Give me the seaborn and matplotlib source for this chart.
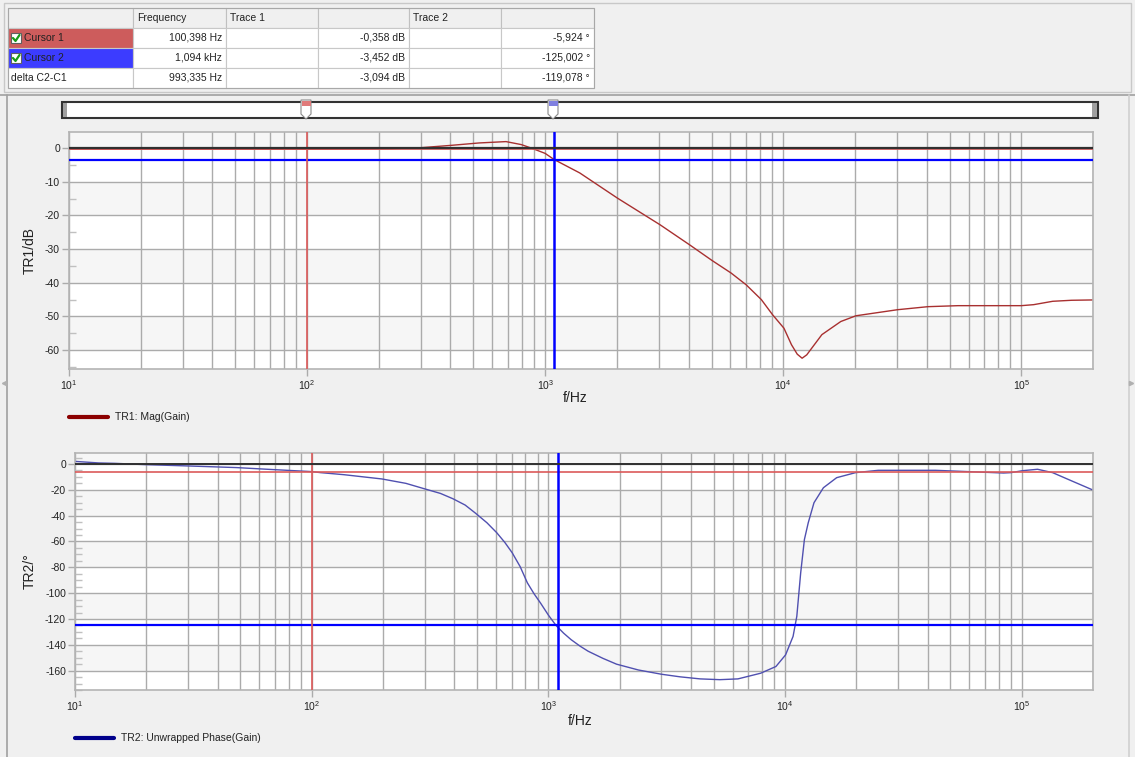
import matplotlib
matplotlib.use("Agg")
import numpy as np
import pandas as pd
import matplotlib.pyplot as plt
import seaborn as sns
from matplotlib.patches import Rectangle, Polygon
from matplotlib.ticker import FixedLocator, MultipleLocator, NullFormatter

# ==========================
# DATA
# ==========================

mag_freq = [10, 20, 50, 100, 200, 225, 302, 405, 528, 685, 795, 888, 1000, 1089,
            1397, 2014, 3040, 4035, 5025, 6035, 6985, 8090, 9020, 10070, 10830,
            11450, 12000, 12550, 14530, 17450, 20200, 30200, 40500, 54200,
            100000, 112700, 135500, 162600, 200000]
mag_db = [-0.30, -0.31, -0.33, -0.36, -0.25, -0.2, 0.1, 0.8, 1.5, 1.9, 1.0, -0.2,
          -1.6, -3.4, -7.4, -14.9, -22.8, -28.7, -33.4, -37.1, -40.6, -45.0,
          -49.5, -53.5, -58.4, -61.2, -62.4, -61.4, -55.4, -51.5, -49.8, -48.0,
          -47.1, -46.8, -46.8, -46.5, -45.5, -45.2, -45.1]

ph_freq = [10, 12.6, 14.7, 19.8, 29.7, 48.2, 65, 84.4, 100, 109, 137, 198, 250,
           298, 350, 395, 445, 493, 550, 605, 655, 703, 760, 815, 870, 929,
           1000, 1077, 1160, 1247, 1360, 1473, 1700, 1941, 2400, 3006, 3600,
           4378, 5300, 6322, 7890, 9150, 10050, 10810, 11210, 11640, 12070,
           12530, 13250, 14520, 16520, 19870, 24760, 43150, 60100, 83800,
           90100, 100700, 116600, 135000, 163000, 200000]
ph_deg = [2, 0.8, 0.5, -0.5, -1.5, -2.8, -4.1, -5.2, -5.9, -6.7, -8.3, -11.6,
          -15.0, -19.1, -22.8, -26.9, -31.8, -38.2, -45.5, -53.2, -60.8, -68.7,
          -79.5, -92, -100.5, -108, -117.0, -125, -131.0, -136, -141.0, -145,
          -150.5, -155, -159.5, -162.8, -164.8, -166.4, -167.0, -166.4, -162,
          -156.8, -147.8, -133.5, -118, -84.4, -58.5, -45.5, -30, -18.4, -10.6,
          -6.7, -4.9, -4.9, -5.95, -7, -6.7, -5.2, -4.1, -6.7, -13.2, -20.2]

cursor_freq = [100.398, 1094.0]
cursor_mag = [-0.358, -3.452]
cursor_phase = [-5.924, -125.002]

table_header = ["", "Frequency", "Trace 1", "", "Trace 2", ""]
table_rows = [
    ["Cursor 1", "100,398 Hz", "", "-0,358 dB", "", "-5,924 °"],
    ["Cursor 2", "1,094 kHz", "", "-3,452 dB", "", "-125,002 °"],
    ["delta C2-C1", "993,335 Hz", "", "-3,094 dB", "", "-119,078 °"],
]

decades = [10, 100, 1000, 10000, 100000]
decade_labels = ["$10^{1}$", "$10^{2}$", "$10^{3}$", "$10^{4}$", "$10^{5}$"]

# ==========================
# STYLE
# ==========================

sns.set_theme(style="white")
plt.rcParams["font.family"] = ["Liberation Sans", "DejaVu Sans"]
plt.rcParams["mathtext.fontset"] = "custom"
plt.rcParams["mathtext.rm"] = "Liberation Sans"
plt.rcParams["mathtext.it"] = "Liberation Sans"
plt.rcParams["axes.unicode_minus"] = False

W, H = 1135, 757
BG = "#f0f0f0"
RED_CUR = "#dc5a5a"
BLUE_CUR = "#0000ff"
TR1_COL = "#a83030"
TR2_COL = "#5050b0"
GRID = "#ababab"
TXT = "#222222"

fig = plt.figure(figsize=(W / 100, H / 100), dpi=100, facecolor=BG)


def px_rect(l, t, r, b):
    return [l / W, 1 - b / H, (r - l) / W, (b - t) / H]


# overlay axes in pixel coordinates for the table / slider / frame
ov = fig.add_axes([0, 0, 1, 1])
ov.set_xlim(0, W)
ov.set_ylim(H, 0)
ov.axis("off")
ov.set_zorder(0)

# frames
ov.add_patch(Rectangle((4, 3), 1127, 89, fill=False, ec="#c8c8c8", lw=1))
ov.plot([0, W], [95, 95], color="#a0a0a0", lw=1.2)
ov.plot([7, 7], [95, H], color="#a0a0a0", lw=1.2)
ov.plot([1129, 1129], [95, H], color="#d0d0d0", lw=1.2)
ov.plot([4], [383], marker="<", color="#b0b0b0", ms=3)
ov.plot([1131], [383], marker=">", color="#b0b0b0", ms=3)

# cursor table
col_x = [8, 133, 226, 318, 409, 501, 594]
row_y = [8, 28, 48, 68, 88]
for ci in range(6):
    ov.add_patch(Rectangle((col_x[ci], row_y[0]), col_x[ci + 1] - col_x[ci], 20,
                           fc="#f0f0f0", ec="#c0c0c0", lw=0.8))
    if table_header[ci]:
        ov.text(col_x[ci] + 4, row_y[0] + 10, table_header[ci], fontsize=7.5,
                color=TXT, va="center", ha="left")
row_fill = ["#cd5c5c", "#3c3cff", "white"]
for ri, row in enumerate(table_rows):
    y0 = row_y[ri + 1]
    for ci in range(6):
        fc = row_fill[ri] if ci == 0 else "white"
        ov.add_patch(Rectangle((col_x[ci], y0), col_x[ci + 1] - col_x[ci], 20,
                               fc=fc, ec="#c8c8c8", lw=0.8))
    if ri < 2:
        ov.add_patch(Rectangle((11, y0 + 5), 10, 10, fc="white", ec="#606060", lw=0.8))
        ov.plot([13, 15.5, 19.5], [y0 + 10, y0 + 13, y0 + 7], color="#1a9a1a", lw=1.6)
        ov.text(24, y0 + 10, row[0], fontsize=7.5, color=TXT, va="center")
    else:
        ov.text(11, y0 + 10, row[0], fontsize=7.5, color=TXT, va="center")
    for ci in (1, 3, 5):
        ov.text(col_x[ci + 1] - 4, y0 + 10, row[ci], fontsize=7.5, color=TXT,
                va="center", ha="right")
ov.add_patch(Rectangle((8, 8), 586, 80, fill=False, ec="#a8a8a8", lw=0.8))

# slider
ov.add_patch(Rectangle((62, 102), 1036, 16, fc="white", ec="#333333", lw=1.5))
ov.add_patch(Rectangle((63, 103), 4, 14, fc="#a0a0a0", ec="none"))
ov.add_patch(Rectangle((1092, 103), 5, 14, fc="#a0a0a0", ec="none"))
for mx, mcol in [(306, "#e07a7a"), (553, "#8080e0")]:
    ov.add_patch(Polygon([(mx - 5, 100), (mx + 5, 100), (mx + 5, 114), (mx, 119),
                          (mx - 5, 114)], closed=True, fc="white", ec="#8a8a8a", lw=0.8))
    ov.add_patch(Rectangle((mx - 4.5, 100.5), 9, 5.5, fc=mcol, ec="none"))


# ==========================
# PLOT AXES
# ==========================

def style_axes(ax, ylim, major, band_start):
    ax.set_facecolor("white")
    ax.set_xscale("log")
    ax.set_xlim(10, 2e5)
    ax.set_ylim(*ylim)
    # alternating horizontal bands
    lo, hi = ylim
    edges = list(np.arange(0, lo - major, -major)) + [lo]
    edges = [hi] + edges
    for k in range(len(edges) - 1):
        if k % 2 == band_start:
            ax.axhspan(edges[k + 1], edges[k], color="#f6f6f6", lw=0, zorder=0)
    ax.xaxis.set_major_locator(FixedLocator(decades))
    ax.set_xticklabels(decade_labels)
    minors = [m * d for d in decades for m in range(2, 10) if m * d <= 2e5]
    ax.xaxis.set_minor_locator(FixedLocator(minors))
    ax.xaxis.set_minor_formatter(NullFormatter())
    ax.yaxis.set_major_locator(MultipleLocator(major))
    ax.yaxis.set_minor_locator(MultipleLocator(5))
    ax.grid(which="both", axis="x", color=GRID, lw=1.0, zorder=0.5)
    ax.grid(which="major", axis="y", color=GRID, lw=1.0, zorder=0.5)
    ax.set_axisbelow(True)
    ax.tick_params(which="major", direction="out", length=5, width=1, color=GRID,
                   labelsize=7.5, labelcolor=TXT, pad=1.5, left=True, bottom=True)
    ax.tick_params(axis="y", which="minor", direction="in", length=5, width=1,
                   color="#c0c0c0", left=True)
    ax.tick_params(axis="x", which="minor", length=0)
    for s in ax.spines.values():
        s.set_color("#b4b4b4")
        s.set_linewidth(1.2)


ax1 = fig.add_axes(px_rect(69, 132, 1093, 369))
ax1.set_zorder(1)
style_axes(ax1, (-65.6, 4.75), 10, 0)
sns.lineplot(x=mag_freq, y=mag_db, ax=ax1, color=TR1_COL, lw=1.0, zorder=2)
ax1.axhline(cursor_mag[0], color=RED_CUR, lw=1.2, zorder=3)
ax1.axhline(0, color="#303030", lw=1.6, zorder=3.5)
ax1.axhline(cursor_mag[1], color=BLUE_CUR, lw=1.6, zorder=3)
ax1.axvline(cursor_freq[0], color=RED_CUR, lw=1.2, zorder=3)
ax1.axvline(cursor_freq[1], color=BLUE_CUR, lw=1.8, zorder=3)
ax1.set_xlabel("f/Hz", fontsize=10, color=TXT)
ax1.set_ylabel("TR1/dB", fontsize=10, color=TXT)
ax1.xaxis.set_label_coords((575 - 69) / 1024, -(398 - 369) / 237)
ax1.xaxis.label.set_va("center")
ax1.yaxis.set_label_coords((30 - 69) / 1024, 0.5)
ax1.yaxis.label.set(va="center", rotation_mode="default")

ax2 = fig.add_axes(px_rect(75, 453, 1093, 690))
ax2.set_zorder(1)
style_axes(ax2, (-175, 8.5), 20, 0)
sns.lineplot(x=ph_freq, y=ph_deg, ax=ax2, color=TR2_COL, lw=1.0, zorder=2)
ax2.axhline(cursor_phase[0], color=RED_CUR, lw=1.2, zorder=3)
ax2.axhline(0, color="#303030", lw=1.4, zorder=3.5)
ax2.axhline(cursor_phase[1], color=BLUE_CUR, lw=1.6, zorder=3)
ax2.axvline(cursor_freq[0], color=RED_CUR, lw=1.2, zorder=3)
ax2.axvline(cursor_freq[1], color=BLUE_CUR, lw=1.8, zorder=3)
ax2.set_xlabel("f/Hz", fontsize=10, color=TXT)
ax2.set_ylabel("TR2/°", fontsize=10, color=TXT)
ax2.xaxis.set_label_coords((580 - 75) / 1018, -(721 - 690) / 237)
ax2.xaxis.label.set_va("center")
ax2.yaxis.set_label_coords((30 - 75) / 1018, 0.5)
ax2.yaxis.label.set(va="center", rotation_mode="default")

# legends (drawn like the instrument software)
ov.plot([69, 108], [417, 417], color="#8b0000", lw=3)
ov.text(115, 417, "TR1: Mag(Gain)", fontsize=7.5, color=TXT, va="center")
ov.plot([75, 114], [738, 738], color="#00008b", lw=3)
ov.text(121, 738, "TR2: Unwrapped Phase(Gain)", fontsize=7.5, color=TXT, va="center")

fig.savefig("out.png", dpi=100, facecolor=BG)
